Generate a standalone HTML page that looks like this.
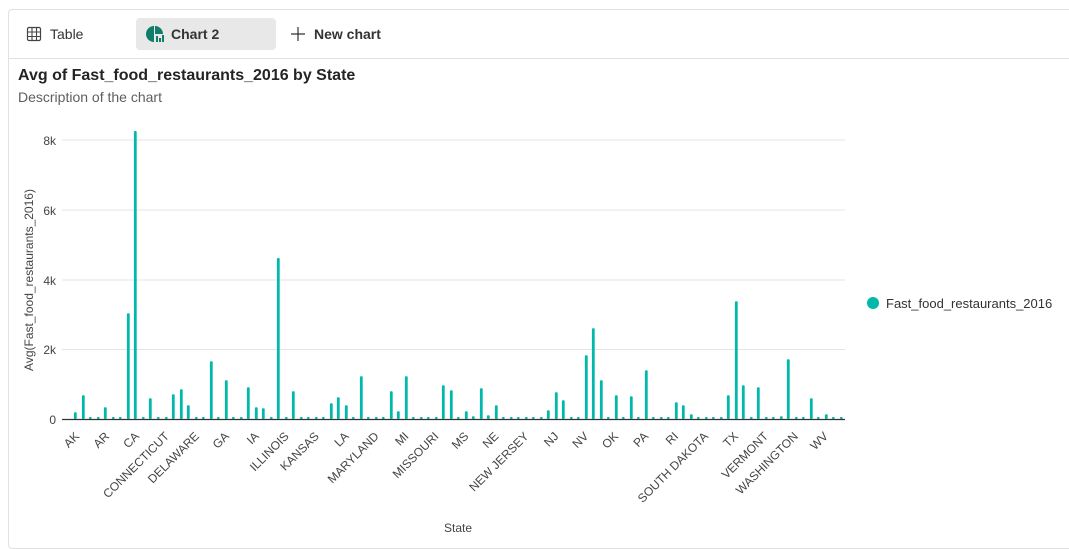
<!DOCTYPE html>
<html><head><meta charset="utf-8"><style>
html,body{margin:0;padding:0;background:#fff;width:1069px;height:541px;overflow:hidden;font-family:"Liberation Sans",sans-serif;}
.card{position:absolute;left:8px;top:9px;width:1070px;height:540px;border:1px solid #e1e1e1;border-radius:4px;box-sizing:border-box;}
.sep{position:absolute;left:8px;top:58px;width:1061px;height:1px;background:#e1e1e1;}
.tab{position:absolute;top:18px;height:32px;line-height:32px;font-size:14px;color:#333;}
</style></head><body>
<div class="card"></div>
<div class="sep"></div>
<div class="tab" style="left:26px;">
<svg width="16" height="16" viewBox="0 0 16 16" style="vertical-align:-3px;margin-right:8px"><rect x="1.5" y="1.5" width="13" height="13" rx="1.5" fill="none" stroke="#444" stroke-width="1.2"/><path d="M1.5 6h13M1.5 10.5h13M6 1.5v13M10.5 1.5v13" stroke="#444" stroke-width="1.1"/></svg>Table</div>
<div class="tab" style="left:136px;width:140px;background:#e8e8e8;border-radius:4px;font-weight:bold;color:#333;">
<svg width="18" height="18" viewBox="0 0 18 18" style="vertical-align:-4px;margin:0 7px 0 10px"><path d="M8 1a8 8 0 1 0 0 16V9z" fill="#107c6a"/><path d="M9 1a8 8 0 0 1 8 8H9z" fill="#107c6a"/><rect x="10" y="11" width="2" height="6" fill="#107c6a"/><rect x="13" y="13" width="2" height="4" fill="#107c6a"/><rect x="16" y="10" width="2" height="7" fill="#107c6a"/></svg>Chart 2</div>
<div class="tab" style="left:290px;font-weight:bold;color:#333;">
<svg width="16" height="16" viewBox="0 0 16 16" style="vertical-align:-3px;margin-right:8px"><path d="M8 1v14M1 8h14" stroke="#333" stroke-width="1.2"/></svg>New chart</div>
<div style="position:absolute;left:18px;top:67px;font-size:16px;font-weight:bold;color:#252423;">Avg of Fast_food_restaurants_2016 by State</div>
<div style="position:absolute;left:18px;top:89px;font-size:14px;color:#605e5c;">Description of the chart</div>
<svg id="ch" width="1069" height="541" style="position:absolute;left:0;top:0" font-family="Liberation Sans, sans-serif">
<g stroke="#e4e4e4" stroke-width="1">
<line x1="62" x2="845" y1="349.5" y2="349.5"/><line x1="62" x2="845" y1="280" y2="280"/><line x1="62" x2="845" y1="210" y2="210"/><line x1="62" x2="845" y1="140" y2="140"/>
</g>
<g font-size="12" fill="#444" text-anchor="end">
<text x="56" y="424">0</text><text x="56" y="354">2k</text><text x="56" y="285">4k</text><text x="56" y="215">6k</text><text x="56" y="145">8k</text>
</g>
<text transform="translate(33,280) rotate(-90)" font-size="12" fill="#444" text-anchor="middle">Avg(Fast_food_restaurants_2016)</text>
<text x="458" y="532" font-size="12" fill="#444" text-anchor="middle">State</text>
<g id="bars" fill="#01b8aa"></g>
<line x1="62" x2="845" y1="419.5" y2="419.5" stroke="#333" stroke-width="1.2"/>
<g id="labs" font-size="12" fill="#444" text-anchor="end"></g>
<circle cx="873" cy="303" r="6" fill="#01b8aa"/>
<text x="886" y="308" font-size="13" fill="#333">Fast_food_restaurants_2016</text>
</svg>
<script>
var L=[[46,367],[70,316],[91,382],[115,382],[136,352],[160,382],[181,382],[205,70],[226,-477],[250,382],[271,325],[295,382],[319,382],[340,313],[364,298],[385,346],[409,382],[430,382],[454,214],[475,382],[499,271],[520,382],[544,382],[565,292],[589,352],[610,355],[634,382],[655,-96],[679,382],[700,304],[724,382],[745,382],[769,382],[790,382],[814,340],[835,322],[859,346],[880,382],[904,259],[925,382],[949,382],[970,382],[994,304],[1015,364],[1039,259],[1060,382],[1084,382],[1105,382],[1129,382],[1150,286],[1174,301],[1195,382]];
var R=[[49,364],[70,379],[94,295],[115,376],[139,346],[160,382],[184,382],[205,382],[229,382],[250,382],[274,382],[295,361],[319,307],[340,331],[364,382],[385,382],[409,196],[430,115],[454,271],[475,382],[499,316],[520,382],[544,319],[565,382],[589,241],[610,382],[634,382],[655,382],[679,337],[700,346],[724,373],[745,382],[769,382],[790,382],[814,382],[835,316],[859,34],[880,286],[904,382],[925,292],[949,382],[970,382],[994,379],[1015,208],[1039,382],[1060,382],[1084,325],[1105,382],[1129,373],[1150,382],[1174,382]];
var s='';function add(ox,oy,a){a.forEach(function(p){var x=ox+p[0]/3,t=oy+p[1]/3,h=419-t;if(h<2)h=2;s+='<rect x="'+(x-1.4).toFixed(1)+'" y="'+(419-h).toFixed(1)+'" width="2.8" height="'+h.toFixed(1)+'" rx="1"/>';});}
add(60,290,L);add(450,290,R);
document.getElementById('bars').innerHTML=s;
var n=["AK","AR","CA","CONNECTICUT","DELAWARE","GA","IA","ILLINOIS","KANSAS","LA","MARYLAND","MI","MISSOURI","MS","NE","NEW JERSEY","NJ","NV","OK","PA","RI","SOUTH DAKOTA","TX","VERMONT","WASHINGTON","WV"];
var t='';n.forEach(function(v,i){var x=80+i*29.95;t+='<text transform="translate('+x.toFixed(1)+',437) rotate(-45)">'+v+'</text>';});
document.getElementById('labs').innerHTML=t;
</script>
</body></html>
